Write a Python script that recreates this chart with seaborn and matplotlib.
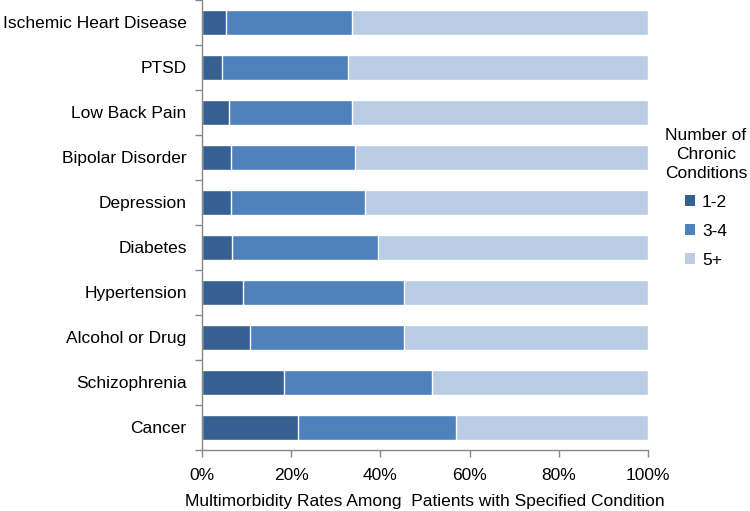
import matplotlib
matplotlib.use("Agg")
import matplotlib.pyplot as plt
import matplotlib.ticker as mticker
from matplotlib.patches import Patch
import numpy as np
import pandas as pd
import seaborn as sns

conditions = ["Ischemic Heart Disease", "PTSD", "Low Back Pain", "Bipolar Disorder",
              "Depression", "Diabetes", "Hypertension", "Alcohol or Drug",
              "Schizophrenia", "Cancer"]
pct_1_2 = [5.3, 4.5, 6.0, 6.5, 6.5, 6.7, 9.1, 10.8, 18.3, 21.6]
pct_3_4 = [28.3, 28.2, 27.6, 27.8, 30.0, 32.8, 36.1, 34.6, 33.3, 35.3]
pct_5_plus = [66.4, 67.3, 66.4, 65.7, 63.5, 60.5, 54.8, 54.6, 48.4, 43.1]
groups = ["1-2", "3-4", "5+"]
colors = ["#376092", "#4F81BD", "#B9CDE5"]

df = pd.DataFrame({"condition": conditions, "1-2": pct_1_2,
                   "3-4": pct_3_4, "5+": pct_5_plus})
df["c12"] = df["1-2"]
df["c34"] = df["1-2"] + df["3-4"]
df["c5"] = df["c34"] + df["5+"]

sns.set_style("white")
plt.rcParams["font.family"] = ["Liberation Sans", "DejaVu Sans"]
plt.rcParams["text.color"] = "black"
plt.rcParams["axes.labelcolor"] = "black"
plt.rcParams["xtick.color"] = "black"
plt.rcParams["ytick.color"] = "black"

fs = 12.5
fig = plt.figure(figsize=(7.5, 5.11), dpi=100)
ax = fig.add_axes([202 / 750, 1 - 450 / 511, 446 / 750, 450 / 511])

# stacked: draw cumulative totals back to front
for col, color in zip(["c5", "c34", "c12"], colors[::-1]):
    sns.barplot(data=df, y="condition", x=col, orient="h", color=color,
                width=0.56, saturation=1, ax=ax, order=conditions)

ax.set_xlim(0, 100)
ax.set_ylim(len(conditions) - 0.5, -0.5)
ax.xaxis.set_major_locator(mticker.MultipleLocator(20))
ax.xaxis.set_major_formatter(mticker.PercentFormatter(decimals=0))
ax.set_yticks(np.arange(len(conditions)))
ax.set_yticklabels(conditions)
ax.set_yticks(np.arange(len(conditions) + 1) - 0.5, minor=True)
ax.tick_params(axis="y", which="both", left=True)
ax.tick_params(axis="y", which="major", length=0, labelsize=fs, pad=11)
ax.tick_params(axis="y", which="minor", length=5, color="#888888",
               direction="out", width=1)
ax.tick_params(axis="x", which="major", bottom=True, length=5, color="#888888",
               direction="out", width=1, labelsize=fs, pad=8)
ax.set_ylabel("")
ax.set_xlabel("Multimorbidity Rates Among  Patients with Specified Condition",
              fontsize=fs, labelpad=8)
for side in ["top", "right"]:
    ax.spines[side].set_visible(False)
for side in ["left", "bottom"]:
    ax.spines[side].set_color("#888888")
    ax.spines[side].set_linewidth(1)

handles = [Patch(facecolor=c, edgecolor="none") for c in colors]
leg = fig.legend(handles, groups, title="Number of\nChronic\nConditions",
                 loc="upper center", bbox_to_anchor=(706 / 750, 1 - 119 / 511),
                 frameon=False, fontsize=fs, title_fontsize=fs,
                 handlelength=0.6, handleheight=0.6, handletextpad=0.4,
                 labelspacing=0.8, borderpad=0)
leg.get_title().set_multialignment("center")
leg.get_title().set_linespacing(1.35)

fig.savefig("out.png", dpi=100)
